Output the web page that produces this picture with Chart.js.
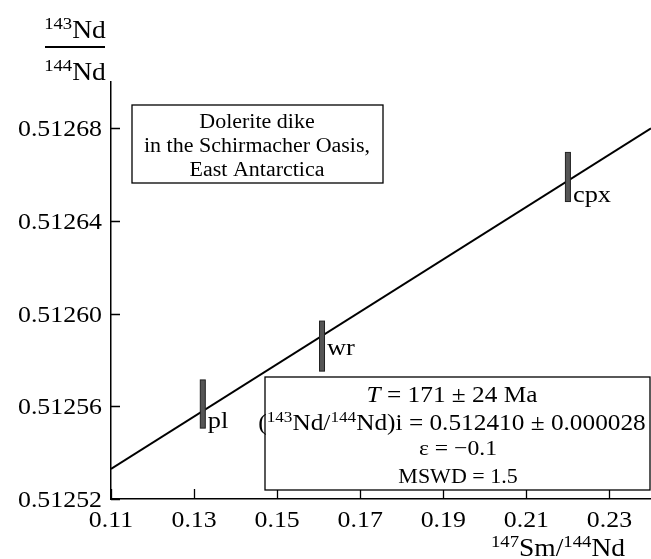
<!DOCTYPE html>
<html>
<head>
<meta charset="utf-8">
<script src="https://cdn.jsdelivr.net/npm/chart.js@4/dist/chart.umd.min.js"></script>
<style>
    body { margin: 0; background: #fff; }
    #caixa { width: 651px; height: 559px; }
</style>
</head>
<body>
<div id="caixa"><canvas id="isocrona" width="651" height="559"></canvas></div>
<script>
// data
var amostras = ['pl', 'wr', 'cpx'];
var smNd = [0.1321, 0.1608, 0.2200];
var ndNd = [0.512561, 0.512586, 0.512659];
var erroNd = [0.0000104, 0.0000108, 0.0000106];

// isochron line end points
var retaX = [0.11, 0.24];
var retaY = [0.512533, 0.512680];

var ticksX = [0.11, 0.13, 0.15, 0.17, 0.19, 0.21, 0.23];
var ticksY = [0.51252, 0.51256, 0.51260, 0.51264, 0.51268];

var FONTE = '"Liberation Serif", "Times New Roman", serif';
var SX = 1.1; // the original figure is a bit stretched sideways

const graficoIsocrona = document.getElementById('isocrona');

// draws text made of pieces, some of them superscript or italic
function texto(ctx, partes, x, y, tam, alinhar) {
    ctx.save();
    ctx.translate(x, y);
    ctx.scale(SX, 1);
    var largura = 0;
    for (var i = 0; i < partes.length; i++) {
        var p = partes[i];
        var t = p.s ? tam * 0.68 : tam;
        ctx.font = (p.i ? 'italic ' : '') + t + 'px ' + FONTE;
        p.w = ctx.measureText(p.t).width;
        largura += p.w;
    }
    var px = 0;
    if (alinhar == 'center') px = -largura / 2;
    if (alinhar == 'right') px = -largura;
    ctx.fillStyle = '#000';
    ctx.textBaseline = 'alphabetic';
    ctx.textAlign = 'left';
    for (var i = 0; i < partes.length; i++) {
        var p = partes[i];
        var t = p.s ? tam * 0.68 : tam;
        ctx.font = (p.i ? 'italic ' : '') + t + 'px ' + FONTE;
        ctx.fillText(p.t, px, p.s ? -tam * 0.36 : 0);
        px += p.w;
    }
    ctx.restore();
}

function caixa(ctx, x1, y1, x2, y2) {
    ctx.save();
    ctx.fillStyle = '#fff';
    ctx.fillRect(x1, y1, x2 - x1, y2 - y1);
    ctx.strokeStyle = '#000';
    ctx.lineWidth = 1.3;
    ctx.strokeRect(x1, y1, x2 - x1, y2 - y1);
    ctx.restore();
}

const desenhos = {
    id: 'desenhos',
    afterDatasetsDraw: function (chart) {
        var ctx = chart.ctx;
        var x = chart.scales.x;
        var y = chart.scales.y;

        // error bars of the samples
        for (var i = 0; i < amostras.length; i++) {
            var px = x.getPixelForValue(smNd[i]);
            var topo = y.getPixelForValue(ndNd[i] + erroNd[i]);
            var base = y.getPixelForValue(ndNd[i] - erroNd[i]);
            ctx.save();
            ctx.fillStyle = '#555';
            ctx.strokeStyle = '#222';
            ctx.lineWidth = 1;
            ctx.fillRect(px - 2.5, topo, 5, base - topo);
            ctx.strokeRect(px - 2.5, topo, 5, base - topo);
            ctx.restore();

            var dy = 0;
            if (amostras[i] == 'wr') dy = -16;
            texto(ctx, [{ t: amostras[i] }], px + 5, base + dy, 24, 'left');
        }
    },
    afterDraw: function (chart) {
        var ctx = chart.ctx;
        var x = chart.scales.x;
        var y = chart.scales.y;
        var area = chart.chartArea;

        // inward ticks
        ctx.save();
        ctx.strokeStyle = '#000';
        ctx.lineWidth = 1.3;
        ctx.beginPath();
        for (var i = 0; i < ticksX.length; i++) {
            var px = Math.round(x.getPixelForValue(ticksX[i])) + 0.5;
            ctx.moveTo(px, area.bottom);
            ctx.lineTo(px, area.bottom - 10);
        }
        for (var i = 0; i < ticksY.length; i++) {
            var py = Math.round(y.getPixelForValue(ticksY[i])) + 0.5;
            ctx.moveTo(area.left, py);
            ctx.lineTo(area.left + 9, py);
        }
        ctx.stroke();
        ctx.restore();

        // tick labels
        for (var i = 0; i < ticksX.length; i++) {
            texto(ctx, [{ t: ticksX[i].toFixed(2) }], x.getPixelForValue(ticksX[i]), area.bottom + 28, 23.5, 'center');
        }
        for (var i = 0; i < ticksY.length; i++) {
            texto(ctx, [{ t: ticksY[i].toFixed(5) }], area.left - 9, y.getPixelForValue(ticksY[i]) + 8, 23.5, 'right');
        }

        // axis titles
        texto(ctx, [{ t: '143', s: 1 }, { t: 'Nd' }], 75, 38, 25, 'center');
        ctx.save();
        ctx.strokeStyle = '#000';
        ctx.lineWidth = 1.8;
        ctx.beginPath();
        ctx.moveTo(45, 47);
        ctx.lineTo(105, 47);
        ctx.stroke();
        ctx.restore();
        texto(ctx, [{ t: '144', s: 1 }, { t: 'Nd' }], 75, 80, 25, 'center');
        texto(ctx, [{ t: '147', s: 1 }, { t: 'Sm/' }, { t: '144', s: 1 }, { t: 'Nd' }], 558, 556, 25, 'center');

        // sample description
        caixa(ctx, 132, 105, 383, 183);
        texto(ctx, [{ t: 'Dolerite dike' }], 257, 128, 20, 'center');
        texto(ctx, [{ t: 'in the Schirmacher Oasis,' }], 257, 152, 20, 'center');
        texto(ctx, [{ t: 'East Antarctica' }], 257, 176, 20, 'center');

        // isochron results
        caixa(ctx, 265, 377, 650, 490);
        texto(ctx, [{ t: 'T', i: 1 }, { t: ' = 171 ± 24 Ma' }], 452, 402, 23, 'center');
        texto(ctx, [{ t: '(' }, { t: '143', s: 1 }, { t: 'Nd/' }, { t: '144', s: 1 }, { t: 'Nd)i = 0.512410 ± 0.000028' }], 452, 430, 23, 'center');
        texto(ctx, [{ t: 'ε = −0.1' }], 458, 455, 21.5, 'center');
        texto(ctx, [{ t: 'MSWD = 1.5' }], 458, 483, 20, 'center');
    }
};

var dadosIsocrona = {
    datasets: [{
        label: 'Isochron',
        data: retaX.map(function (v, i) { return { x: v, y: retaY[i] }; }),
        showLine: true,
        borderColor: '#000',
        borderWidth: 2,
        pointRadius: 0,
        fill: false
    },
    {
        label: 'Samples',
        data: smNd.map(function (v, i) { return { x: v, y: ndNd[i] }; }),
        showLine: false,
        pointRadius: 0
    }]
};

var dashIsocrona = new Chart(graficoIsocrona, {
    type: 'scatter',
    data: dadosIsocrona,
    options: {
        responsive: false,
        animation: false,
        layout: {
            autoPadding: false,
            padding: { top: 82, right: 0, bottom: 0, left: 0 }
        },
        plugins: {
            legend: { display: false },
            tooltip: { enabled: false }
        },
        scales: {
            x: {
                type: 'linear',
                min: 0.11,
                max: 0.24,
                grid: { display: false, drawTicks: false },
                border: { display: true, color: '#000', width: 1.5 },
                ticks: { display: false },
                afterBuildTicks: function (s) { s.ticks = ticksX.map(function (v) { return { value: v }; }); },
                afterFit: function (s) { s.height = 60; }
            },
            y: {
                type: 'linear',
                min: 0.51252,
                max: 0.51270,
                grid: { display: false, drawTicks: false },
                border: { display: true, color: '#000', width: 1.5 },
                ticks: { display: false },
                afterBuildTicks: function (s) { s.ticks = ticksY.map(function (v) { return { value: v }; }); },
                afterFit: function (s) { s.width = 111; }
            }
        }
    },
    plugins: [desenhos]
});
</script>
</body>
</html>
